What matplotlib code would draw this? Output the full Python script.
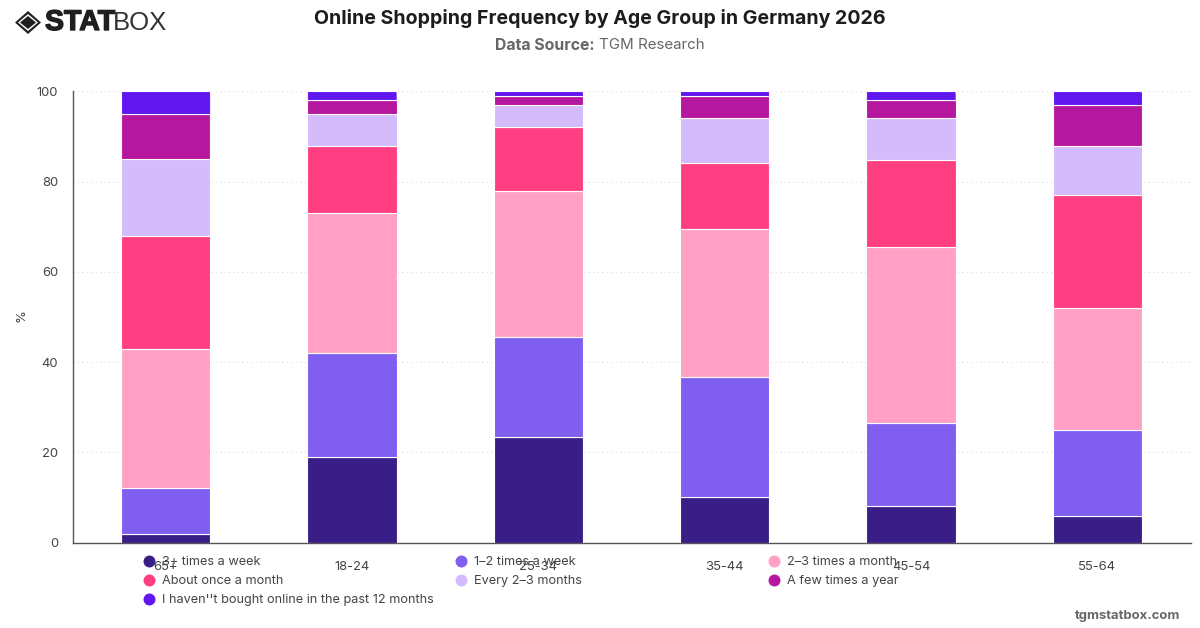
import matplotlib
matplotlib.use('Agg')
import matplotlib.pyplot as plt
import matplotlib.patheffects as pe
from matplotlib.lines import Line2D
from matplotlib.patches import FancyBboxPatch, Polygon
from matplotlib.transforms import IdentityTransform

plt.rcParams['font.family'] = ['Inter', 'DejaVu Sans']

age_groups = ['65+', '18-24', '25-34', '35-44', '45-54', '55-64']
series_names = ['3+ times a week', '1–2 times a week', '2–3 times a month',
                'About once a month', 'Every 2–3 months', 'A few times a year',
                "I haven''t bought online in the past 12 months"]
series_colors = ['#3A1E87', '#7F5EF0', '#FFA0C4', '#FF3F82', '#D4BBFB', '#B5179E', '#6016EE']

three_plus = [2, 19, 23.5, 10, 8.2, 6]
one_two_week = [10, 23, 22, 26.7, 18.4, 19]
two_three_month = [31, 31, 32.5, 32.7, 39, 27]
once_month = [25, 15, 14, 14.8, 19.2, 25]
every_2_3 = [17, 7, 5, 9.9, 9.2, 11]
few_year = [10, 3, 2, 4.9, 4, 9]
not_bought = [5, 2, 1, 1, 2, 3]
all_series = [three_plus, one_two_week, two_three_month, once_month, every_2_3, few_year, not_bought]

W, H = 1200, 628
fig = plt.figure(figsize=(12, 6.28), dpi=100)

def fx(px):
    return px / W

def fy(py):
    return 1 - py / H

ax = fig.add_axes([fx(72.5), fy(542.6), (1190.5 - 72.5) / W, (542.6 - 91.4) / H])

# stacked bars
bottom = [0] * len(age_groups)
top_bars = None
for values, color in zip(all_series, series_colors):
    top_bars = ax.bar(age_groups, values, width=0.48, bottom=bottom, color=color,
                      edgecolor='white', linewidth=0.8, zorder=3)
    bottom = [b + v for b, v in zip(bottom, values)]

ax.set_xlim(-0.5, 5.5)
ax.set_ylim(0, 100)
ax.set_yticks([0, 20, 40, 60, 80, 100])
ax.grid(axis='y', color='#dddddd', linestyle=(0, (1, 3)), linewidth=0.8, zorder=0)
ax.set_axisbelow(True)
ax.spines['top'].set_visible(False)
ax.spines['right'].set_visible(False)
for side in ['left', 'bottom']:
    ax.spines[side].set_color('#555555')
    ax.spines[side].set_linewidth(1.0)
ax.tick_params(axis='both', length=0, labelsize=9.4, labelcolor='#444444')
ax.tick_params(axis='x', pad=13.2)
ax.tick_params(axis='y', pad=10.5)

# round the top corners of the uppermost segment
fig.canvas.draw()
for bar in top_bars:
    box = bar.get_window_extent()
    clip = FancyBboxPatch((box.x0, box.y0 - 8), box.width, box.height + 8.5,
                          boxstyle='round,pad=0,rounding_size=3',
                          transform=IdentityTransform())
    bar.set_clip_path(clip)

fig.text(fx(21), fy(316), '%', rotation=90, ha='center', va='center',
         fontsize=9.4, color='#444444')

# titles
fig.text(fx(600), fy(18), 'Online Shopping Frequency by Age Group in Germany 2026',
         ha='center', va='center', fontsize=14.1, fontweight='bold', color='#1c1c1c')
fig.text(fx(495), fy(45), 'Data Source:', ha='left', va='center',
         fontsize=11.4, fontweight='bold', color='#666666')
fig.text(fx(599), fy(45), 'TGM Research', ha='left', va='center',
         fontsize=10.9, color='#666666')

# legend, three columns
legend_x = [149, 461, 774]
legend_y = [561, 580, 599]
for i, (name, color) in enumerate(zip(series_names, series_colors)):
    col = i % 3
    row = i // 3
    fig.add_artist(Line2D([fx(legend_x[col])], [fy(legend_y[row])], marker='o', markersize=8.6,
                          markerfacecolor=color, markeredgecolor='none', linestyle='none',
                          transform=fig.transFigure))
    fig.text(fx(legend_x[col] + 13), fy(legend_y[row] + 1), name, ha='left', va='center',
             fontsize=9.16, color='#444444')

# logo mark and wordmark
ink = '#1f1f1f'
cx, cy = 28, 22.5
layers = [(13, 11.5, ink), (10, 8.5, 'white'), (8, 6.5, ink)]
for hw, hh, color in layers:
    pts = [(cx - hw, cy), (cx, cy - hh), (cx + hw, cy), (cx, cy + hh)]
    fig.add_artist(Polygon([(fx(x), fy(y)) for x, y in pts], closed=True, facecolor=color,
                           edgecolor='none', transform=fig.transFigure))
stat = fig.text(fx(45), fy(23), 'STAT', ha='left', va='center', fontsize=20.5, fontweight='bold',
                color=ink, family=['Liberation Sans', 'DejaVu Sans'])
stat.set_path_effects([pe.withStroke(linewidth=1.0, foreground=ink)])
fig.text(fx(113), fy(23), 'BOX', ha='left', va='center', fontsize=18.5,
         color='#333333', family=['Liberation Sans', 'DejaVu Sans'])

fig.text(fx(1180), fy(616), 'tgmstatbox.com', ha='right', va='center',
         fontsize=9.4, fontweight='bold', color='#666666')

fig.savefig('out.png', dpi=100)
